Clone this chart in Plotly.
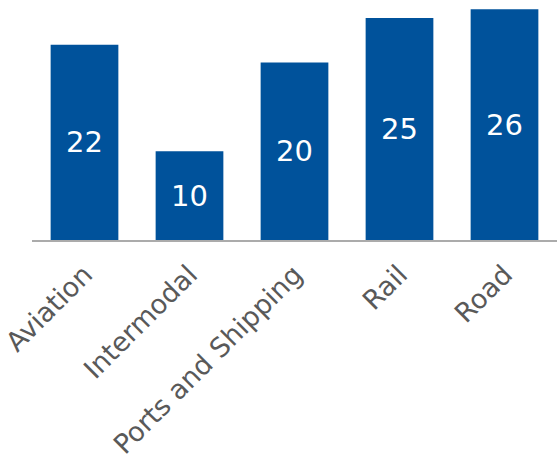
import plotly.graph_objects as go

categories = ["Aviation", "Intermodal", "Ports and Shipping", "Rail", "Road"]
values = [22, 10, 20, 25, 26]

fig = go.Figure(go.Bar(
    x=categories, y=values,
    marker=dict(color="#00529B", line=dict(width=0)),
    text=[str(v) for v in values],
    textposition="inside", insidetextanchor="middle",
    textfont=dict(color="white", size=29, family="DejaVu Sans"),
    textangle=0,
))
fig.update_layout(
    width=557, height=461,
    margin=dict(l=30, r=0, t=0, b=221),
    plot_bgcolor="white", paper_bgcolor="white",
    bargap=0.355,
    showlegend=False,
)
fig.update_xaxes(
    showline=True, linecolor="#ABABAB", linewidth=2,
    tickangle=-45, tickfont=dict(size=27, color="#595959", family="DejaVu Sans"),
    ticks="", showgrid=False, ticklabelstandoff=6,
)
fig.update_yaxes(range=[0, 27.03], visible=False, showgrid=False)
fig.write_html("out.html")
